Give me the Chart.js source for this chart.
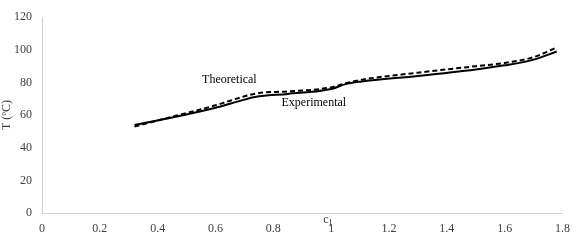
<!DOCTYPE html>
<html>
<head>
<meta charset="utf-8">
<script src="https://cdn.jsdelivr.net/npm/chart.js@4"></script>
<style>
  html, body { margin: 0; padding: 0; background: #fff; }
  #wrap { width: 579px; height: 241px; }
</style>
</head>
<body>
<div id="wrap"><canvas id="myChart"></canvas></div>
<script>
  const clValues = [0.32, 0.45, 0.6, 0.7, 0.75, 0.85, 1.0, 1.05, 1.1, 1.3, 1.5, 1.6, 1.7, 1.78];
  const theoretical = [53, 59, 66, 71.5, 73.5, 74.5, 77, 79.5, 81.5, 86, 90, 92, 95.5, 101.5];
  const experimental = [54, 58.5, 64.5, 69.5, 71.5, 73, 76, 79, 80.5, 84, 88, 90.5, 94, 99];
  const labelTexts = [
    { text: 'Theoretical', x: 0.648, y: 81.8 },
    { text: 'Experimental', x: 0.94, y: 67.7 }
  ];

  const serif = 'Liberation Serif';

  // curve labels and the cl axis name, drawn on the canvas
  const textPlugin = {
    id: 'curveText',
    afterDatasetsDraw(chart) {
      const ctx = chart.ctx;
      const xs = chart.scales.x, ys = chart.scales.y;
      ctx.save();
      ctx.fillStyle = '#000';
      ctx.font = '12px ' + serif;
      ctx.textAlign = 'center';
      ctx.textBaseline = 'middle';
      labelTexts.forEach(function(t){
        ctx.fillText(t.text, xs.getPixelForValue(t.x), ys.getPixelForValue(t.y));
      });
      const px = xs.getPixelForValue(1);
      ctx.fillStyle = '#404040';
      ctx.textAlign = 'left';
      ctx.fillText('c', px - 8, ys.bottom + 7);
      ctx.font = '10px ' + serif;
      ctx.fillText('l', px - 2, ys.bottom + 10);
      ctx.restore();
    }
  };

  const data = {
    datasets: [
      {
        label: 'Theoretical',
        data: clValues.map(function(x, i){ return { x: x, y: theoretical[i] }; }),
        borderColor: '#000',
        borderWidth: 2,
        borderDash: [5, 3],
        pointRadius: 0,
        cubicInterpolationMode: 'monotone'
      },
      {
        label: 'Experimental',
        data: clValues.map(function(x, i){ return { x: x, y: experimental[i] }; }),
        borderColor: '#000',
        borderWidth: 2,
        pointRadius: 0,
        cubicInterpolationMode: 'monotone'
      }
    ]
  };

  const config = {
    type: 'line',
    data: data,
    plugins: [textPlugin],
    options: {
      responsive: true,
      maintainAspectRatio: false,
      animation: false,
      layout: { padding: { top: 10, right: 15, left: 0, bottom: 0 } },
      plugins: {
        legend: { display: false },
        tooltip: { enabled: false }
      },
      scales: {
        x: {
          type: 'linear',
          min: 0,
          max: 1.8,
          grid: { display: false, drawTicks: false },
          border: { color: '#d0d0d0' },
          ticks: {
            stepSize: 0.2,
            padding: 9,
            color: '#404040',
            font: { size: 12, family: serif },
            callback: function(v){ return String(Math.round(v * 10) / 10); }
          },
          afterFit: function(s){ s.height = 28; }
        },
        y: {
          min: 0,
          max: 120,
          grid: { display: false, drawTicks: false },
          border: { color: '#d0d0d0' },
          ticks: {
            stepSize: 20,
            padding: 10,
            color: '#404040',
            font: { size: 12, family: serif }
          },
          title: {
            display: true,
            text: 'T (ºC)',
            color: '#404040',
            padding: 0,
            font: { size: 12, family: serif }
          },
          afterFit: function(s){ s.width = 42; }
        }
      }
    }
  };

  const myChart = new Chart(document.getElementById('myChart'), config);
</script>
</body>
</html>
